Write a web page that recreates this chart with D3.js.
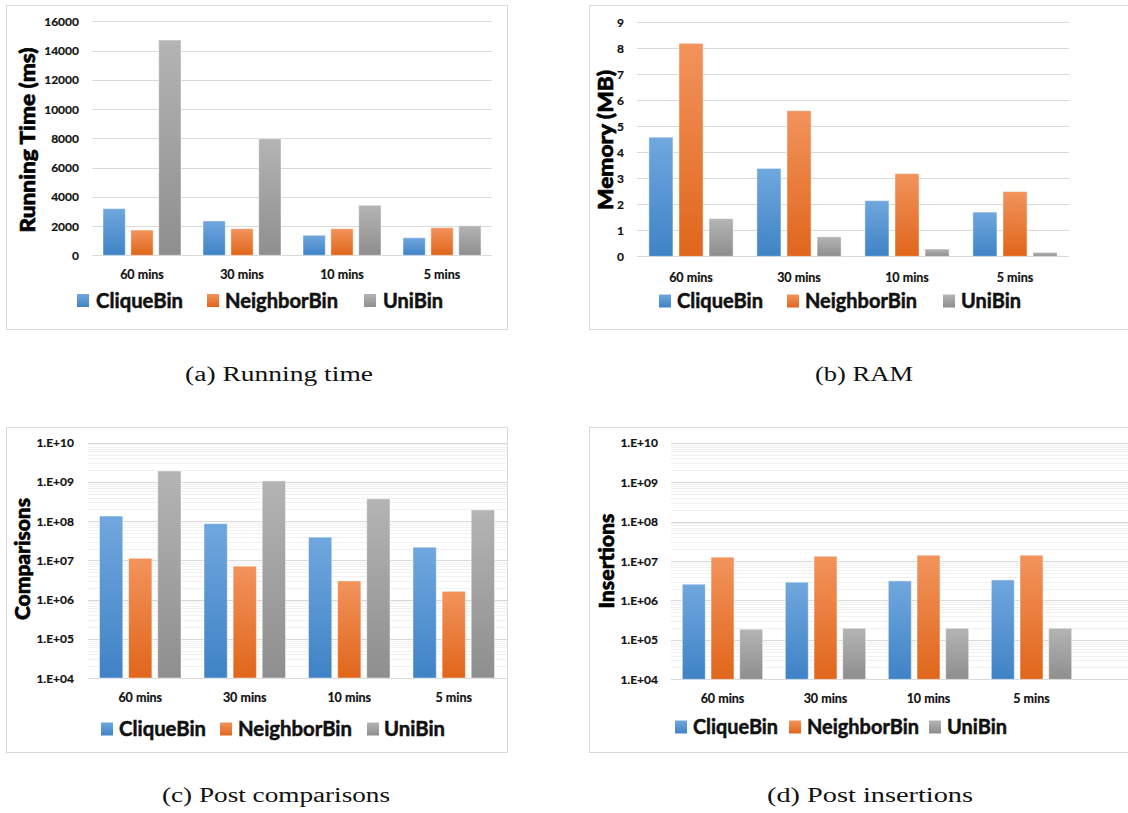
<!DOCTYPE html>
<html>
<head>
<meta charset="utf-8">
<script src="https://cdn.jsdelivr.net/npm/d3@7"></script>
<style>
  html, body { margin: 0; padding: 0; background: #fff; }
  svg { display: block; }
  .tick-label { font-family: Lato, "Open Sans", sans-serif; font-weight: bold; font-size: 12px; fill: #111; stroke: #111; stroke-width: 0.2px; }
  .cat-label { font-family: Lato, "Open Sans", sans-serif; font-weight: bold; font-size: 12.5px; fill: #111; stroke: #111; stroke-width: 0.2px; }
  .axis-title { font-family: Lato, "Open Sans", sans-serif; font-weight: 900; font-size: 20px; fill: #000; stroke: #000; stroke-width: 0.6px; }
  .legend-label { font-family: Lato, "Open Sans", sans-serif; font-weight: bold; font-size: 20px; fill: #111; stroke: #111; stroke-width: 0.5px; }
  .caption { font-family: "Liberation Serif", "DejaVu Serif", serif; font-size: 20px; fill: #111; }
</style>
</head>
<body>
<svg id="fig" width="1128" height="813"></svg>
<script>
// ---- data ----
const categories = ["60 mins", "30 mins", "10 mins", "5 mins"];
const seriesNames = ["CliqueBin", "NeighborBin", "UniBin"];

// Running time (ms)
const timeClique   = [3190, 2345, 1370, 1200];
const timeNeighbor = [1730, 1820, 1820, 1890];
const timeUni      = [14720, 7970, 3420, 2020];
const timeTicks    = [0, 2000, 4000, 6000, 8000, 10000, 12000, 14000, 16000];

// Memory (MB)
const memClique   = [4.58, 3.38, 2.14, 1.70];
const memNeighbor = [8.19, 5.60, 3.18, 2.49];
const memUni      = [1.45, 0.75, 0.28, 0.15];
const memTicks    = [0, 1, 2, 3, 4, 5, 6, 7, 8, 9];

// Post comparisons
const cmpClique   = [1.35e8, 8.6e7, 3.9e7, 2.16e7];
const cmpNeighbor = [1.13e7, 7.1e6, 2.98e6, 1.62e6];
const cmpUni      = [1.9e9, 1.06e9, 3.7e8, 1.93e8];

// Post insertions
const insClique   = [2.58e6, 2.9e6, 3.13e6, 3.31e6];
const insNeighbor = [1.25e7, 1.32e7, 1.4e7, 1.4e7];
const insUni      = [1.86e5, 1.97e5, 1.97e5, 1.97e5];

const logTicks      = [1e4, 1e5, 1e6, 1e7, 1e8, 1e9, 1e10];
const logTickLabels = ["1.E+04", "1.E+05", "1.E+06", "1.E+07", "1.E+08", "1.E+09", "1.E+10"];

const captions = ["(a) Running time", "(b) RAM", "(c) Post comparisons", "(d) Post insertions"];

// ---- drawing ----
const svg = d3.select("#fig");
const defs = svg.append("defs");

const gradStops = {
  CliqueBin:   ["#70a7de", "#3f83c6"],
  NeighborBin: ["#f2935c", "#e0661b"],
  UniBin:      ["#b4b4b4", "#8e8e8e"]
};
seriesNames.forEach(name => {
  const g = defs.append("linearGradient")
    .attr("id", "grad-" + name)
    .attr("x1", 0).attr("y1", 0).attr("x2", 0).attr("y2", 1);
  g.append("stop").attr("offset", "0%").attr("stop-color", gradStops[name][0]);
  g.append("stop").attr("offset", "100%").attr("stop-color", gradStops[name][1]);
});

const panels = [
  {
    frame: [6, 5, 501, 324],
    plotX: [92, 492], gridX: [92, 492],
    y: d3.scaleLinear().domain([0, 16000]).range([255.3, 21.3]),
    ticks: timeTicks, tickFmt: d => String(d), tickX: 79,
    series: [timeClique, timeNeighbor, timeUni],
    title: "Running Time (ms)", titleX: 27, titleY: 140, titleLen: 185,
    catY: 278.5,
    legendY: 300.5,
    legend: [[77, 96, 87], [207, 225, 113], [364, 383, 60]],
    caption: [185, 381, 188]
  },
  {
    frame: [589, 5, 560, 324],
    plotX: [637, 1069], gridX: [637, 1069],
    y: d3.scaleLinear().domain([0, 9]).range([256.3, 22.3]),
    ticks: memTicks, tickFmt: d => String(d), tickX: 624,
    series: [memClique, memNeighbor, memUni],
    title: "Memory (MB)", titleX: 605, titleY: 140, titleLen: 140,
    catY: 281.5,
    legendY: 301,
    legend: [[659, 677, 86], [787, 805, 112], [943, 961, 60]],
    caption: [815, 381, 98]
  },
  {
    frame: [6, 427, 501, 325],
    plotX: [88, 506], gridX: [88, 507],
    y: d3.scaleLog().domain([1e4, 1e10]).range([678, 442.7]),
    ticks: logTicks, tickFmt: (d, i) => logTickLabels[i], tickX: 74, log: true,
    series: [cmpClique, cmpNeighbor, cmpUni],
    title: "Comparisons", titleX: 22, titleY: 559, titleLen: 122,
    catY: 702,
    legendY: 729,
    legend: [[101, 119, 87], [220, 238, 114], [367, 384, 61]],
    caption: [162, 802, 228]
  },
  {
    frame: [589, 427, 560, 325],
    plotX: [671, 1083], gridX: [671, 1128],
    y: d3.scaleLog().domain([1e4, 1e10]).range([679.3, 442.7]),
    ticks: logTicks, tickFmt: (d, i) => logTickLabels[i], tickX: 658, log: true,
    series: [insClique, insNeighbor, insUni],
    title: "Insertions", titleX: 606, titleY: 561, titleLen: 95,
    catY: 703,
    legendY: 727,
    legend: [[675, 693, 85], [789, 807, 112], [929, 947, 60]],
    caption: [767, 802, 206]
  }
];

panels.forEach((p, pi) => {
  const g = svg.append("g");

  // chart frame
  g.append("rect")
    .attr("x", p.frame[0] + 0.5).attr("y", p.frame[1] + 0.5)
    .attr("width", p.frame[2]).attr("height", p.frame[3])
    .attr("fill", "#fff").attr("stroke", "#d9d9d9").attr("stroke-width", 1);

  // minor gridlines for log axes
  if (p.log) {
    const minor = [];
    for (let e = 4; e < 10; e++) {
      for (let m = 2; m <= 9; m++) minor.push(m * Math.pow(10, e));
    }
    g.append("g").selectAll("line").data(minor).join("line")
      .attr("x1", p.gridX[0]).attr("x2", p.gridX[1])
      .attr("y1", d => Math.round(p.y(d)) + 0.5).attr("y2", d => Math.round(p.y(d)) + 0.5)
      .attr("stroke", "#f0f0f0").attr("stroke-width", 1);
  }

  // major gridlines
  g.append("g").selectAll("line").data(p.ticks).join("line")
    .attr("x1", p.gridX[0]).attr("x2", p.gridX[1])
    .attr("y1", d => Math.round(p.y(d)) + 0.5).attr("y2", d => Math.round(p.y(d)) + 0.5)
    .attr("stroke", "#d9d9d9").attr("stroke-width", 1.2);

  // y tick labels
  g.append("g").selectAll("text").data(p.ticks).join("text")
    .attr("class", "tick-label")
    .attr("x", p.tickX).attr("y", d => p.y(d))
    .attr("text-anchor", "end").attr("dominant-baseline", "central")
    .text((d, i) => p.tickFmt(d, i));

  // bars
  const x0 = d3.scaleBand().domain(categories).range(p.plotX).paddingInner(0.22).paddingOuter(0.11);
  const x1 = d3.scaleBand().domain(seriesNames).range([0, x0.bandwidth()]).paddingInner(0.2);
  const base = p.y.range()[0];

  seriesNames.forEach((name, si) => {
    g.append("g").selectAll("rect").data(p.series[si]).join("rect")
      .attr("x", (d, i) => x0(categories[i]) + x1(name))
      .attr("y", d => p.y(d))
      .attr("width", x1.bandwidth())
      .attr("height", d => base - p.y(d))
      .attr("fill", "url(#grad-" + name + ")")
      .attr("stroke", "rgba(255,255,255,0.45)").attr("stroke-width", 1);
  });

  // category labels
  g.append("g").selectAll("text").data(categories).join("text")
    .attr("class", "cat-label")
    .attr("x", d => x0(d) + x0.bandwidth() / 2)
    .attr("y", p.catY)
    .attr("text-anchor", "middle")
    .text(d => d);

  // axis title
  g.append("text")
    .attr("class", "axis-title")
    .attr("transform", `translate(${p.titleX},${p.titleY}) rotate(-90)`)
    .attr("text-anchor", "middle").attr("dominant-baseline", "central")
    .attr("textLength", p.titleLen).attr("lengthAdjust", "spacingAndGlyphs")
    .text(p.title);

  // legend
  seriesNames.forEach((name, si) => {
    const [sx, tx, tw] = p.legend[si];
    g.append("rect")
      .attr("x", sx).attr("y", p.legendY - 6.5)
      .attr("width", 12).attr("height", 13)
      .attr("fill", "url(#grad-" + name + ")");
    g.append("text")
      .attr("class", "legend-label")
      .attr("x", tx).attr("y", p.legendY + 7)
      .attr("textLength", tw).attr("lengthAdjust", "spacingAndGlyphs")
      .text(name);
  });

  // caption below the chart
  svg.append("text")
    .attr("class", "caption")
    .attr("x", p.caption[0]).attr("y", p.caption[1])
    .attr("textLength", p.caption[2]).attr("lengthAdjust", "spacingAndGlyphs")
    .text(captions[pi]);
});
</script>
</body>
</html>
